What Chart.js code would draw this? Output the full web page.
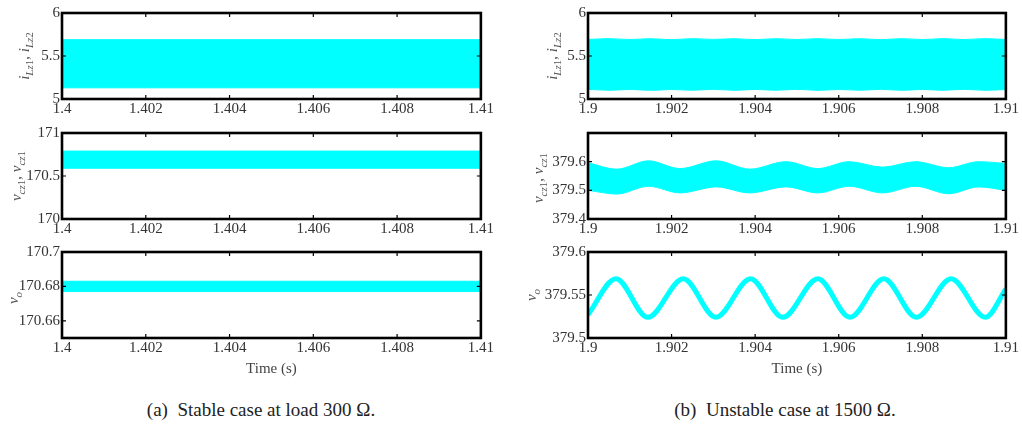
<!DOCTYPE html>
<html>
<head>
<meta charset="utf-8">
<script src="https://cdn.jsdelivr.net/npm/chart.js@4.4.0/dist/chart.umd.min.js"></script>
<style>
  body { margin: 0; background: #fff; width: 1022px; height: 426px; overflow: hidden; position: relative; font-family: "Liberation Serif", "DejaVu Serif", serif; }
  .box { position: absolute; }
  .ylab { position: absolute; transform: translate(-50%, -50%) rotate(-90deg); white-space: nowrap; font-size: 15px; color: #555; font-style: italic; }
  .ylab sub { font-size: 11px; }
  .ylab .n { font-style: normal; }
  .cap { position: absolute; transform: translate(-50%, -50%); white-space: nowrap; font-size: 19px; color: #222; }
</style>
</head>
<body>
<div class="box" style="left:0;top:0;width:495px;height:121px"><canvas id="a1"></canvas></div>
<div class="box" style="left:0;top:120px;width:495px;height:121px"><canvas id="a2"></canvas></div>
<div class="box" style="left:0;top:239px;width:495px;height:141px"><canvas id="a3"></canvas></div>
<div class="box" style="left:520px;top:0;width:500px;height:121px"><canvas id="b1"></canvas></div>
<div class="box" style="left:520px;top:120px;width:500px;height:121px"><canvas id="b2"></canvas></div>
<div class="box" style="left:520px;top:239px;width:500px;height:141px"><canvas id="b3"></canvas></div>

<div class="ylab" style="left:25px;top:56px">i<sub>Lz<span class="n">1</span></sub><span class="n">, </span>i<sub>Lz<span class="n">2</span></sub></div>
<div class="ylab" style="left:17px;top:176px">v<sub>cz<span class="n">1</span></sub><span class="n">, </span>v<sub>cz<span class="n">1</span></sub></div>
<div class="ylab" style="left:14px;top:298px">v<sub>o</sub></div>
<div class="ylab" style="left:553px;top:56px">i<sub>Lz<span class="n">1</span></sub><span class="n">, </span>i<sub>Lz<span class="n">2</span></sub></div>
<div class="ylab" style="left:539px;top:178px">v<sub>cz<span class="n">1</span></sub><span class="n">, </span>v<sub>cz<span class="n">1</span></sub></div>
<div class="ylab" style="left:532px;top:295px">v<sub>o</sub></div>

<div class="cap" style="left:261px;top:410px">(a)&nbsp; Stable case at load 300 Ω.</div>
<div class="cap" style="left:785px;top:410px">(b)&nbsp; Unstable case at 1500 Ω.</div>

<script>
// tick labels
const xTicksA = [1.4, 1.402, 1.404, 1.406, 1.408, 1.41];
const xTicksB = [1.9, 1.902, 1.904, 1.906, 1.908, 1.91];
const yTicksA1 = [5, 5.5, 6];
const yTicksA2 = [170, 170.5, 171];
const yTicksA3 = [170.66, 170.68, 170.7];
const yTicksB1 = [5, 5.5, 6];
const yTicksB2 = [379.4, 379.5, 379.6];
const yTicksB3 = [379.5, 379.55, 379.6];

// (a) stable case: ripple bands (upper / lower envelope)
const timeA = [1.4, 1.41];
const iLzUpperA = [5.69, 5.69];
const iLzLowerA = [5.13, 5.13];
const vczUpperA = [170.79, 170.79];
const vczLowerA = [170.59, 170.59];
const voUpperA = [170.683, 170.683];
const voLowerA = [170.677, 170.677];

// (b) unstable case
const timeB1 = [1.9, 1.9005, 1.901, 1.9015, 1.902, 1.9025, 1.903, 1.9035, 1.904, 1.9045, 1.905,
  1.9055, 1.906, 1.9065, 1.907, 1.9075, 1.908, 1.9085, 1.909, 1.9095, 1.91];
const iLzUpperB = [5.692, 5.702, 5.692, 5.701, 5.690, 5.702, 5.693, 5.701, 5.691, 5.701, 5.692,
  5.702, 5.692, 5.701, 5.690, 5.702, 5.692, 5.701, 5.692, 5.702, 5.692];
const iLzLowerB = [5.112, 5.102, 5.111, 5.101, 5.110, 5.102, 5.112, 5.101, 5.111, 5.102, 5.112,
  5.101, 5.110, 5.102, 5.112, 5.101, 5.111, 5.102, 5.112, 5.101, 5.110];

const timeB2 = [1.9, 1.90069, 1.90145, 1.9022, 1.90307, 1.90387, 1.90474, 1.9055, 1.90625,
  1.90705, 1.90784, 1.90863, 1.90935, 1.91];
const vczUpperB = [379.596, 379.574, 379.603, 379.576, 379.603, 379.574, 379.600, 379.576,
  379.600, 379.581, 379.600, 379.579, 379.600, 379.594];
const vczLowerB = [379.500, 379.487, 379.514, 379.491, 379.512, 379.491, 379.512, 379.491,
  379.514, 379.491, 379.514, 379.488, 379.512, 379.500];

const timeB3 = [1.9, 1.90067, 1.90143, 1.90228, 1.90306, 1.90389, 1.90466, 1.9055, 1.90627,
  1.90708, 1.90786, 1.90869, 1.90951, 1.91];
const voB = [379.527, 379.569, 379.524, 379.569, 379.524, 379.569, 379.524, 379.569, 379.524,
  379.569, 379.524, 379.569, 379.524, 379.557];

const CYAN = '#00ffff';
const FONT = 'Liberation Serif, DejaVu Serif, serif';
const pts = (t, v) => t.map((x, i) => ({ x: x, y: v[i] }));
const fmt = v => String(parseFloat(v.toFixed(3)));

// black frame with inward ticks on all four sides
const framePlugin = {
  id: 'frame',
  afterDraw(chart) {
    const { ctx, chartArea: a, scales } = chart;
    ctx.save();
    ctx.strokeStyle = '#000';
    ctx.lineWidth = 1.2;
    const len = 4;
    scales.x.ticks.forEach(t => {
      const px = scales.x.getPixelForValue(t.value);
      ctx.beginPath();
      ctx.moveTo(px, a.top); ctx.lineTo(px, a.top + len);
      ctx.moveTo(px, a.bottom); ctx.lineTo(px, a.bottom - len);
      ctx.stroke();
    });
    scales.y.ticks.forEach(t => {
      const py = scales.y.getPixelForValue(t.value);
      ctx.beginPath();
      ctx.moveTo(a.left, py); ctx.lineTo(a.left + len, py);
      ctx.moveTo(a.right, py); ctx.lineTo(a.right - len, py);
      ctx.stroke();
    });
    ctx.lineWidth = 2.6;
    ctx.strokeRect(a.left, a.top, a.right - a.left, a.bottom - a.top);
    ctx.restore();
  }
};

function makeChart(id, datasets, xTicks, yTicks, yMin, yMax, yWidth, padRight, withTitle) {
  new Chart(document.getElementById(id), {
    type: 'line',
    data: { datasets: datasets },
    options: {
      responsive: true,
      maintainAspectRatio: false,
      animation: false,
      layout: { padding: { top: 13, right: padRight, left: 0, bottom: 0 } },
      plugins: { legend: { display: false }, tooltip: { enabled: false } },
      elements: { point: { radius: 0 } },
      scales: {
        x: {
          type: 'linear',
          min: xTicks[0],
          max: xTicks[xTicks.length - 1],
          afterBuildTicks: s => { s.ticks = xTicks.map(v => ({ value: v })); },
          afterFit: s => { s.height = withTitle ? 42 : 22; },
          grid: { display: false, drawTicks: false },
          border: { display: false },
          ticks: { callback: fmt, padding: 1, maxRotation: 0, autoSkip: false,
            color: '#333', font: { family: FONT, size: 15 } },
          title: { display: withTitle, text: 'Time (s)', color: '#444', padding: { top: 0, bottom: 2 },
            font: { family: FONT, size: 15 } }
        },
        y: {
          min: yMin,
          max: yMax,
          afterBuildTicks: s => { s.ticks = yTicks.map(v => ({ value: v })); },
          afterFit: s => { s.width = yWidth; },
          grid: { display: false, drawTicks: false },
          border: { display: false },
          ticks: { callback: fmt, padding: 2, autoSkip: false,
            color: '#333', font: { family: FONT, size: 15 } }
        }
      }
    },
    plugins: [framePlugin]
  });
}

function band(t, lower, upper, smooth) {
  const mode = smooth ? 'monotone' : 'default';
  return [
    { data: pts(t, lower), borderColor: CYAN, borderWidth: 1, fill: false, cubicInterpolationMode: mode },
    { data: pts(t, upper), borderColor: CYAN, borderWidth: 1, backgroundColor: CYAN, fill: '-1',
      cubicInterpolationMode: mode }
  ];
}

makeChart('a1', band(timeA, iLzLowerA, iLzUpperA), xTicksA, yTicksA1, 5, 6, 62, 14, false);
makeChart('a2', band(timeA, vczLowerA, vczUpperA), xTicksA, yTicksA2, 170, 171, 62, 14, false);
makeChart('a3', band(timeA, voLowerA, voUpperA), xTicksA, yTicksA3, 170.65, 170.7, 62, 14, true);

makeChart('b1', band(timeB1, iLzLowerB, iLzUpperB, true), xTicksB, yTicksB1, 5, 6, 68, 13, false);
makeChart('b2', band(timeB2, vczLowerB, vczUpperB, true), xTicksB, yTicksB2, 379.4, 379.7, 68, 13, false);
makeChart('b3', [{ data: pts(timeB3, voB), borderColor: CYAN, borderWidth: 5, fill: false,
  cubicInterpolationMode: 'monotone' }], xTicksB, yTicksB3, 379.5, 379.6, 68, 13, true);
</script>
</body>
</html>
